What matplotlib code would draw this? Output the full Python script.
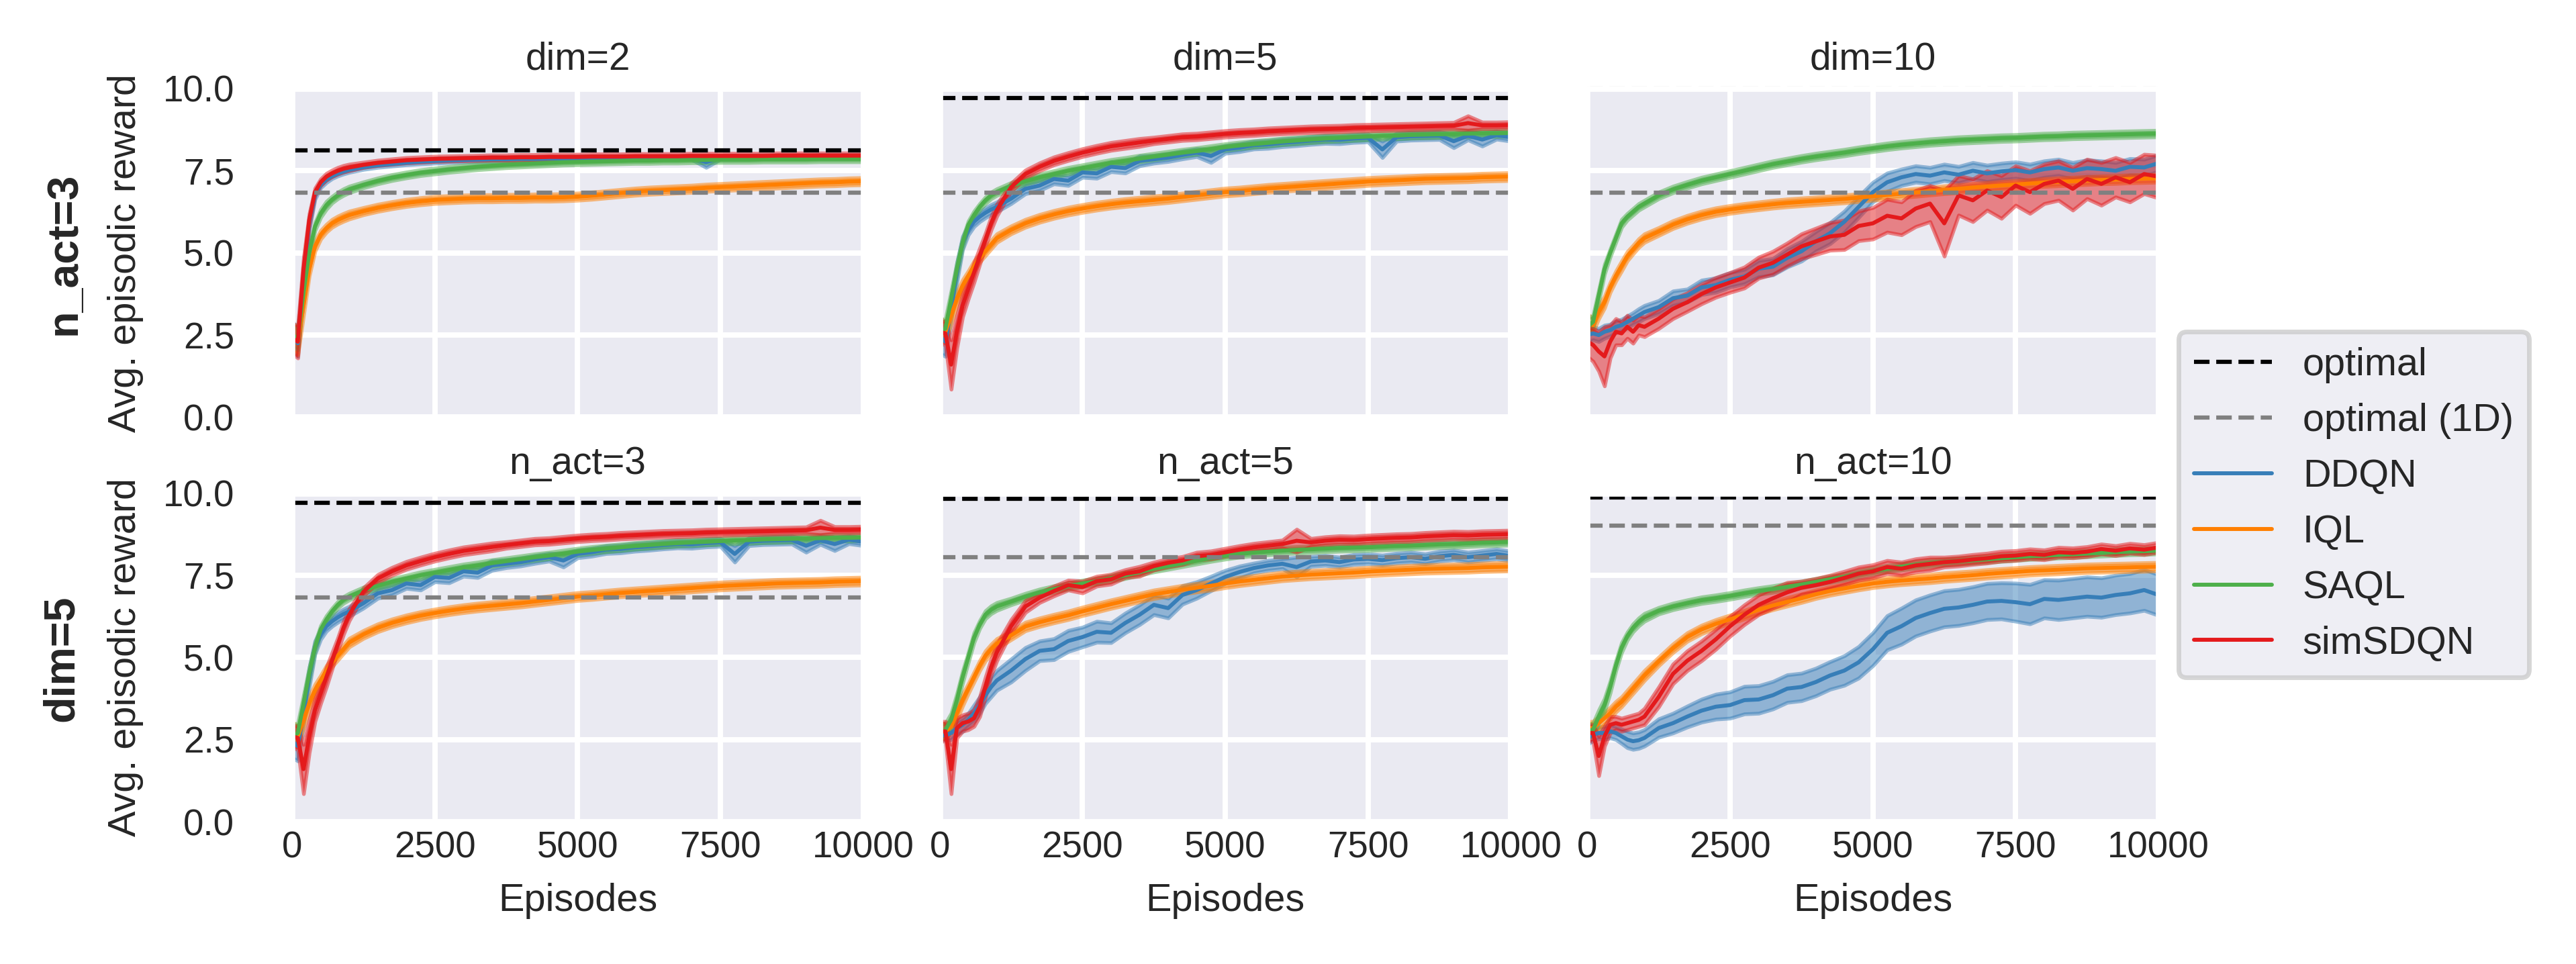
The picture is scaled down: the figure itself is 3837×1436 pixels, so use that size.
import matplotlib.pyplot as plt
import seaborn as sns

sns.set_theme(style='darkgrid')
plt.rcParams['font.family'] = ['Liberation Sans', 'DejaVu Sans']

# x positions of the logged evaluations
episodes = [0, 100, 200, 300, 400, 500, 600, 700, 800, 900, 1000,
            1250, 1500, 1750, 2000, 2250, 2500, 2750, 3000, 3250, 3500,
            3750, 4000, 4250, 4500, 4750, 5000, 5250, 5500, 5750, 6000,
            6250, 6500, 6750, 7000, 7250, 7500, 7750, 8000, 8250, 8500,
            8750, 9000, 9250, 9500, 9750, 10000]

methods = ['DDQN', 'IQL', 'SAQL', 'simSDQN']
colors = {'DDQN': '#377eb8', 'IQL': '#ff7f00', 'SAQL': '#4daf4a', 'simSDQN': '#e41a1c'}

# ---- n_act=3, dim=2 ----
ddqn_a3_d2 = [2.5, 2.25, 4.3, 5.9, 6.75, 7.08, 7.24, 7.34, 7.42, 7.48, 7.53,
              7.61, 7.67, 7.71, 7.75, 7.78, 7.80, 7.82, 7.83, 7.84, 7.85,
              7.85, 7.86, 7.86, 7.87, 7.87, 7.88, 7.88, 7.88, 7.89, 7.89,
              7.89, 7.90, 7.90, 7.90, 7.76, 7.91, 7.91, 7.91, 7.92, 7.92,
              7.92, 7.92, 7.93, 7.93, 7.93, 7.93]
ddqn_a3_d2_sd = [0.45, 0.40, 0.30, 0.20, 0.12, 0.10, 0.10, 0.08, 0.08, 0.08, 0.08,
                 0.07, 0.07, 0.07, 0.07, 0.07, 0.07, 0.07, 0.07, 0.07, 0.07,
                 0.06, 0.06, 0.06, 0.06, 0.06, 0.06, 0.06, 0.06, 0.06, 0.06,
                 0.06, 0.06, 0.06, 0.06, 0.16, 0.06, 0.06, 0.06, 0.06, 0.06,
                 0.06, 0.06, 0.06, 0.06, 0.06, 0.06]
iql_a3_d2 = [2.45, 2.3, 3.4, 4.5, 5.2, 5.55, 5.75, 5.9, 6.0, 6.08, 6.15,
             6.27, 6.37, 6.45, 6.52, 6.57, 6.61, 6.63, 6.65, 6.66, 6.66,
             6.67, 6.67, 6.68, 6.68, 6.69, 6.71, 6.74, 6.78, 6.82, 6.86,
             6.89, 6.91, 6.93, 6.95, 6.98, 7.00, 7.02, 7.04, 7.06, 7.08,
             7.10, 7.12, 7.14, 7.15, 7.17, 7.18]
iql_a3_d2_sd = [0.40, 0.40, 0.30, 0.20, 0.15, 0.13, 0.12, 0.12, 0.12, 0.12, 0.12,
                0.11, 0.11, 0.11, 0.11, 0.11, 0.11, 0.11, 0.11, 0.11, 0.11,
                0.11, 0.11, 0.11, 0.11, 0.11, 0.11, 0.11, 0.11, 0.11, 0.11,
                0.11, 0.11, 0.11, 0.11, 0.11, 0.11, 0.11, 0.11, 0.11, 0.11,
                0.11, 0.11, 0.11, 0.11, 0.11, 0.11]
saql_a3_d2 = [2.5, 2.4, 3.8, 5.0, 5.8, 6.2, 6.45, 6.62, 6.75, 6.85, 6.93,
              7.07, 7.19, 7.29, 7.37, 7.44, 7.49, 7.54, 7.58, 7.62, 7.65,
              7.68, 7.70, 7.72, 7.74, 7.76, 7.77, 7.78, 7.79, 7.80, 7.81,
              7.81, 7.82, 7.82, 7.83, 7.83, 7.84, 7.84, 7.84, 7.85, 7.85,
              7.85, 7.85, 7.86, 7.86, 7.86, 7.86]
saql_a3_d2_sd = [0.35, 0.35, 0.25, 0.15, 0.12, 0.12, 0.12, 0.10, 0.10, 0.10, 0.10,
                 0.09, 0.09, 0.09, 0.09, 0.09, 0.09, 0.09, 0.09, 0.09, 0.09,
                 0.09, 0.09, 0.09, 0.09, 0.09, 0.09, 0.09, 0.09, 0.09, 0.09,
                 0.09, 0.09, 0.09, 0.09, 0.09, 0.09, 0.09, 0.09, 0.09, 0.09,
                 0.09, 0.09, 0.09, 0.09, 0.09, 0.09]
sim_a3_d2 = [2.4, 2.3, 4.5, 6.0, 6.85, 7.15, 7.32, 7.42, 7.50, 7.56, 7.60,
             7.68, 7.74, 7.78, 7.82, 7.84, 7.86, 7.87, 7.88, 7.89, 7.90,
             7.90, 7.91, 7.91, 7.92, 7.92, 7.92, 7.93, 7.93, 7.93, 7.94,
             7.94, 7.94, 7.94, 7.95, 7.95, 7.95, 7.95, 7.95, 7.95, 7.96,
             7.96, 7.96, 7.96, 7.96, 7.96, 7.96]
sim_a3_d2_sd = [0.45, 0.50, 0.35, 0.20, 0.12, 0.10, 0.10, 0.10, 0.10, 0.10, 0.10,
                0.08, 0.08, 0.08, 0.08, 0.08, 0.08, 0.08, 0.08, 0.08, 0.08,
                0.08, 0.08, 0.08, 0.08, 0.08, 0.08, 0.08, 0.08, 0.08, 0.08,
                0.08, 0.08, 0.08, 0.08, 0.08, 0.08, 0.08, 0.08, 0.08, 0.08,
                0.08, 0.08, 0.08, 0.08, 0.08, 0.08]

# ---- n_act=3, dim=5 (same runs appear in both rows) ----
ddqn_a3_d5 = [2.45, 2.3, 3.3, 4.4, 5.3, 5.7, 5.95, 6.1, 6.22, 6.32, 6.4,
              6.65, 6.95, 7.05, 7.25, 7.2, 7.45, 7.42, 7.62, 7.58, 7.8,
              7.85, 7.9, 7.98, 8.05, 7.95, 8.15, 8.2, 8.28, 8.3, 8.35,
              8.38, 8.42, 8.45, 8.44, 8.48, 8.5, 8.15, 8.52, 8.55, 8.56,
              8.57, 8.4, 8.56, 8.45, 8.58, 8.52]
ddqn_a3_d5_sd = [0.50, 0.45, 0.35, 0.30, 0.20, 0.15, 0.15, 0.15, 0.15, 0.15, 0.15,
                 0.15, 0.15, 0.15, 0.15, 0.15, 0.15, 0.15, 0.15, 0.15, 0.15,
                 0.12, 0.12, 0.12, 0.12, 0.20, 0.12, 0.12, 0.12, 0.12, 0.12,
                 0.12, 0.12, 0.12, 0.12, 0.12, 0.12, 0.25, 0.12, 0.12, 0.12,
                 0.12, 0.20, 0.12, 0.20, 0.12, 0.12]
iql_a3_d5 = [2.7, 2.6, 3.1, 3.6, 4.0, 4.3, 4.6, 4.85, 5.05, 5.25, 5.45,
             5.7, 5.9, 6.05, 6.17, 6.27, 6.35, 6.42, 6.48, 6.53, 6.57,
             6.61, 6.65, 6.7, 6.75, 6.8, 6.85, 6.88, 6.92, 6.96, 6.99,
             7.02, 7.05, 7.08, 7.11, 7.14, 7.17, 7.19, 7.21, 7.23, 7.25,
             7.26, 7.27, 7.28, 7.3, 7.31, 7.32]
iql_a3_d5_sd = [0.35, 0.30, 0.25, 0.20, 0.18, 0.15, 0.15, 0.13, 0.13, 0.13, 0.13,
                0.12, 0.12, 0.12, 0.12, 0.12, 0.12, 0.12, 0.12, 0.12, 0.12,
                0.12, 0.12, 0.12, 0.12, 0.12, 0.12, 0.12, 0.12, 0.12, 0.12,
                0.12, 0.12, 0.12, 0.12, 0.12, 0.12, 0.12, 0.12, 0.12, 0.12,
                0.12, 0.12, 0.12, 0.12, 0.12, 0.12]
saql_a3_d5 = [2.6, 2.7, 3.6, 4.5, 5.3, 5.85, 6.15, 6.4, 6.6, 6.75, 6.85,
              7.04, 7.18, 7.3, 7.4, 7.5, 7.58, 7.66, 7.74, 7.8, 7.87,
              7.93, 7.99, 8.05, 8.1, 8.16, 8.22, 8.27, 8.31, 8.35, 8.39,
              8.42, 8.45, 8.48, 8.5, 8.52, 8.54, 8.56, 8.57, 8.59, 8.6,
              8.61, 8.62, 8.63, 8.64, 8.64, 8.65]
saql_a3_d5_sd = [0.35, 0.30, 0.25, 0.20, 0.15, 0.12, 0.12, 0.10, 0.10, 0.10, 0.10,
                 0.10, 0.10, 0.10, 0.10, 0.10, 0.10, 0.10, 0.10, 0.10, 0.10,
                 0.10, 0.10, 0.10, 0.10, 0.10, 0.10, 0.10, 0.10, 0.10, 0.10,
                 0.10, 0.10, 0.10, 0.10, 0.10, 0.10, 0.10, 0.10, 0.10, 0.10,
                 0.10, 0.10, 0.10, 0.10, 0.10, 0.10]
sim_a3_d5 = [2.6, 2.55, 1.6, 2.6, 3.4, 3.9, 4.4, 4.9, 5.4, 5.9, 6.3,
             7.0, 7.4, 7.62, 7.8, 7.93, 8.05, 8.15, 8.24, 8.3, 8.36,
             8.42, 8.47, 8.52, 8.54, 8.58, 8.62, 8.65, 8.67, 8.7, 8.72,
             8.74, 8.76, 8.77, 8.78, 8.8, 8.81, 8.82, 8.83, 8.84, 8.85,
             8.86, 8.87, 8.95, 8.88, 8.88, 8.89]
sim_a3_d5_sd = [0.35, 0.35, 0.75, 0.50, 0.35, 0.30, 0.30, 0.25, 0.20, 0.20, 0.18,
                0.12, 0.12, 0.12, 0.12, 0.12, 0.12, 0.12, 0.12, 0.12, 0.12,
                0.10, 0.10, 0.10, 0.10, 0.10, 0.10, 0.10, 0.10, 0.10, 0.10,
                0.10, 0.10, 0.10, 0.10, 0.10, 0.10, 0.10, 0.10, 0.10, 0.10,
                0.10, 0.10, 0.22, 0.10, 0.10, 0.10]

# ---- n_act=3, dim=10 ----
ddqn_a3_d10 = [2.5, 2.55, 2.5, 2.6, 2.65, 2.75, 2.8, 2.9, 3.0, 3.1, 3.2,
               3.35, 3.62, 3.7, 3.95, 4.02, 4.18, 4.28, 4.52, 4.58, 4.85,
               5.05, 5.35, 5.6, 5.95, 6.4, 6.85, 7.15, 7.3, 7.4, 7.35,
               7.45, 7.38, 7.5, 7.42, 7.48, 7.52, 7.45, 7.55, 7.6, 7.5,
               7.58, 7.55, 7.5, 7.62, 7.6, 7.73]
ddqn_a3_d10_sd = [0.25, 0.20, 0.20, 0.20, 0.18, 0.18, 0.18, 0.18, 0.18, 0.20, 0.20,
                  0.20, 0.22, 0.20, 0.22, 0.22, 0.22, 0.22, 0.25, 0.25, 0.28,
                  0.30, 0.30, 0.32, 0.32, 0.32, 0.30, 0.28, 0.25, 0.25, 0.25,
                  0.25, 0.25, 0.25, 0.25, 0.25, 0.25, 0.25, 0.25, 0.25, 0.25,
                  0.25, 0.25, 0.25, 0.25, 0.25, 0.25]
iql_a3_d10 = [2.9, 2.8, 3.2, 3.5, 3.95, 4.3, 4.6, 4.9, 5.1, 5.3, 5.45,
              5.65, 5.86, 6.02, 6.15, 6.25, 6.32, 6.38, 6.43, 6.48, 6.52,
              6.55, 6.58, 6.61, 6.64, 6.68, 6.72, 6.76, 6.8, 6.84, 6.88,
              6.92, 6.95, 6.99, 7.02, 7.05, 7.08, 7.11, 7.14, 7.16, 7.18,
              7.2, 7.22, 7.23, 7.25, 7.26, 7.27]
iql_a3_d10_sd = [0.25, 0.20, 0.20, 0.18, 0.15, 0.15, 0.15, 0.14, 0.13, 0.13, 0.13,
                 0.12, 0.12, 0.12, 0.12, 0.12, 0.12, 0.12, 0.12, 0.12, 0.12,
                 0.12, 0.12, 0.12, 0.12, 0.12, 0.12, 0.12, 0.12, 0.12, 0.12,
                 0.12, 0.12, 0.12, 0.12, 0.12, 0.12, 0.12, 0.12, 0.12, 0.12,
                 0.12, 0.12, 0.12, 0.12, 0.12, 0.12]
saql_a3_d10 = [2.75, 2.9, 3.7, 4.5, 5.0, 5.45, 5.9, 6.1, 6.25, 6.4, 6.5,
               6.75, 6.93, 7.07, 7.2, 7.3, 7.4, 7.5, 7.6, 7.7, 7.78,
               7.86, 7.93, 7.99, 8.05, 8.12, 8.18, 8.24, 8.29, 8.33, 8.37,
               8.4, 8.43, 8.45, 8.47, 8.49, 8.5, 8.52, 8.54, 8.55, 8.57,
               8.58, 8.59, 8.6, 8.61, 8.62, 8.63]
saql_a3_d10_sd = [0.25, 0.20, 0.18, 0.15, 0.12, 0.12, 0.12, 0.10, 0.10, 0.10, 0.10,
                  0.10, 0.10, 0.10, 0.10, 0.10, 0.10, 0.10, 0.10, 0.10, 0.10,
                  0.10, 0.10, 0.10, 0.10, 0.10, 0.10, 0.10, 0.10, 0.10, 0.10,
                  0.10, 0.10, 0.10, 0.10, 0.10, 0.10, 0.10, 0.10, 0.10, 0.10,
                  0.10, 0.10, 0.10, 0.10, 0.10, 0.10]
sim_a3_d10 = [2.3, 2.2, 2.0, 1.85, 2.3, 2.6, 2.55, 2.75, 2.6, 2.8, 2.75,
              3.0, 3.3, 3.5, 3.75, 3.95, 4.1, 4.25, 4.55, 4.7, 4.95,
              5.2, 5.35, 5.5, 5.55, 5.82, 5.9, 6.13, 6.05, 6.35, 6.5,
              5.9, 6.75, 6.6, 6.9, 6.7, 7.05, 6.85, 7.1, 7.2, 6.95,
              7.25, 7.1, 7.3, 7.15, 7.4, 7.32]
sim_a3_d10_sd = [0.45, 0.50, 0.60, 0.90, 0.50, 0.40, 0.35, 0.35, 0.35, 0.30, 0.30,
                 0.30, 0.30, 0.28, 0.30, 0.30, 0.30, 0.32, 0.32, 0.35, 0.35,
                 0.38, 0.40, 0.42, 0.45, 0.45, 0.48, 0.50, 0.50, 0.55, 0.55,
                 1.00, 0.60, 0.65, 0.60, 0.65, 0.60, 0.65, 0.60, 0.60, 0.65,
                 0.60, 0.65, 0.60, 0.60, 0.60, 0.65]

# ---- dim=5, n_act=5 ----
ddqn_a5_d5 = [2.65, 2.62, 2.7, 2.85, 2.95, 3.1, 3.3, 3.55, 3.85, 4.1, 4.3,
              4.6, 4.95, 5.2, 5.25, 5.5, 5.62, 5.78, 5.75, 6.05, 6.3,
              6.6, 6.5, 6.9, 7.05, 7.25, 7.45, 7.6, 7.72, 7.8, 7.85,
              7.75, 7.92, 7.95, 7.9, 7.98, 8.0, 7.96, 8.02, 8.05, 8.0,
              8.08, 8.12, 8.05, 8.1, 8.15, 8.08]
ddqn_a5_d5_sd = [0.15, 0.15, 0.20, 0.20, 0.20, 0.20, 0.25, 0.25, 0.25, 0.30, 0.30,
                 0.35, 0.35, 0.30, 0.32, 0.32, 0.30, 0.32, 0.30, 0.30, 0.30,
                 0.30, 0.30, 0.28, 0.25, 0.22, 0.20, 0.18, 0.15, 0.15, 0.15,
                 0.30, 0.15, 0.15, 0.15, 0.15, 0.15, 0.15, 0.15, 0.15, 0.15,
                 0.15, 0.15, 0.15, 0.15, 0.15, 0.15]
iql_a5_d5 = [2.8, 2.75, 2.9, 3.3, 3.7, 4.05, 4.4, 4.75, 5.05, 5.25, 5.42,
             5.67, 5.94, 6.07, 6.18, 6.28, 6.4, 6.51, 6.62, 6.72, 6.82,
             6.92, 6.99, 7.06, 7.12, 7.18, 7.25, 7.31, 7.36, 7.41, 7.46,
             7.49, 7.52, 7.54, 7.56, 7.58, 7.61, 7.63, 7.65, 7.67, 7.69,
             7.7, 7.71, 7.72, 7.74, 7.75, 7.76]
iql_a5_d5_sd = [0.25, 0.20, 0.20, 0.20, 0.18, 0.15, 0.15, 0.15, 0.15, 0.15, 0.15,
                0.13, 0.13, 0.13, 0.13, 0.13, 0.13, 0.13, 0.13, 0.13, 0.13,
                0.13, 0.13, 0.13, 0.13, 0.13, 0.13, 0.13, 0.13, 0.13, 0.13,
                0.13, 0.13, 0.13, 0.13, 0.13, 0.13, 0.13, 0.13, 0.13, 0.13,
                0.13, 0.13, 0.13, 0.13, 0.13, 0.13]
saql_a5_d5 = [2.7, 2.8, 3.1, 3.7, 4.4, 5.0, 5.6, 6.0, 6.3, 6.45, 6.55,
              6.7, 6.85, 6.98, 7.08, 7.17, 7.25, 7.32, 7.41, 7.5, 7.6,
              7.7, 7.78, 7.86, 7.94, 8.02, 8.09, 8.15, 8.19, 8.22, 8.25,
              8.27, 8.29, 8.31, 8.33, 8.34, 8.35, 8.37, 8.39, 8.4, 8.42,
              8.44, 8.45, 8.47, 8.49, 8.5, 8.52]
saql_a5_d5_sd = [0.25, 0.20, 0.20, 0.20, 0.18, 0.15, 0.15, 0.12, 0.12, 0.12, 0.12,
                 0.10, 0.10, 0.10, 0.10, 0.10, 0.10, 0.10, 0.10, 0.10, 0.10,
                 0.10, 0.10, 0.10, 0.10, 0.10, 0.10, 0.10, 0.10, 0.10, 0.10,
                 0.10, 0.10, 0.10, 0.10, 0.10, 0.10, 0.10, 0.10, 0.10, 0.10,
                 0.10, 0.10, 0.10, 0.10, 0.10, 0.10]
sim_a5_d5 = [2.75, 2.75, 1.6, 2.85, 3.0, 3.05, 3.15, 3.5, 4.1, 4.7, 5.15,
             5.95, 6.55, 6.82, 7.02, 7.2, 7.14, 7.32, 7.38, 7.55, 7.62,
             7.78, 7.88, 7.95, 8.08, 8.12, 8.2, 8.28, 8.35, 8.4, 8.45,
             8.55, 8.5, 8.55, 8.58, 8.57, 8.6, 8.62, 8.64, 8.65, 8.68,
             8.7, 8.72, 8.71, 8.73, 8.74, 8.75]
sim_a5_d5_sd = [0.30, 0.30, 0.75, 0.30, 0.25, 0.25, 0.25, 0.30, 0.30, 0.25, 0.25,
                0.20, 0.18, 0.15, 0.15, 0.15, 0.18, 0.15, 0.15, 0.12, 0.15,
                0.12, 0.12, 0.12, 0.12, 0.12, 0.12, 0.12, 0.12, 0.12, 0.12,
                0.35, 0.12, 0.12, 0.12, 0.12, 0.12, 0.12, 0.12, 0.12, 0.12,
                0.12, 0.12, 0.12, 0.12, 0.12, 0.12]

# ---- dim=5, n_act=10 ----
ddqn_a10_d5 = [2.55, 2.65, 2.7, 2.7, 2.75, 2.7, 2.6, 2.5, 2.45, 2.48, 2.55,
               2.85, 3.0, 3.2, 3.38, 3.5, 3.55, 3.7, 3.72, 3.85, 4.05,
               4.1, 4.25, 4.45, 4.6, 4.85, 5.25, 5.75, 5.95, 6.2, 6.35,
               6.48, 6.52, 6.6, 6.7, 6.72, 6.68, 6.62, 6.78, 6.75, 6.8,
               6.85, 6.82, 6.9, 6.95, 7.05, 6.9]
ddqn_a10_d5_sd = [0.20, 0.18, 0.18, 0.20, 0.20, 0.20, 0.22, 0.25, 0.25, 0.25, 0.25,
                  0.28, 0.30, 0.32, 0.35, 0.38, 0.40, 0.42, 0.42, 0.42, 0.42,
                  0.42, 0.42, 0.42, 0.45, 0.48, 0.50, 0.52, 0.55, 0.55, 0.55,
                  0.55, 0.55, 0.55, 0.55, 0.55, 0.58, 0.60, 0.58, 0.60, 0.60,
                  0.60, 0.60, 0.60, 0.60, 0.62, 0.62]
iql_a10_d5 = [2.85, 2.85, 3.0, 3.15, 3.3, 3.5, 3.65, 3.85, 4.05, 4.25, 4.45,
              4.88, 5.28, 5.62, 5.85, 6.02, 6.16, 6.3, 6.45, 6.58, 6.69,
              6.8, 6.92, 7.02, 7.1, 7.18, 7.25, 7.3, 7.34, 7.37, 7.4,
              7.44, 7.47, 7.5, 7.54, 7.57, 7.6, 7.63, 7.65, 7.67, 7.69,
              7.71, 7.72, 7.73, 7.74, 7.75, 7.76]
iql_a10_d5_sd = [0.20, 0.20, 0.20, 0.18, 0.18, 0.16, 0.15, 0.15, 0.15, 0.15, 0.15,
                 0.13, 0.13, 0.13, 0.13, 0.13, 0.13, 0.13, 0.13, 0.13, 0.13,
                 0.13, 0.13, 0.13, 0.13, 0.13, 0.13, 0.13, 0.13, 0.13, 0.13,
                 0.13, 0.13, 0.13, 0.13, 0.13, 0.13, 0.13, 0.13, 0.13, 0.13,
                 0.13, 0.13, 0.13, 0.13, 0.13, 0.13]
saql_a10_d5 = [2.75, 2.8, 3.2, 3.55, 4.1, 4.75, 5.3, 5.65, 5.9, 6.08, 6.22,
               6.42, 6.55, 6.65, 6.74, 6.8, 6.87, 6.95, 7.02, 7.08, 7.15,
               7.22, 7.3, 7.38, 7.45, 7.55, 7.63, 7.7, 7.76, 7.82, 7.87,
               7.9, 7.93, 7.96, 7.99, 8.02, 8.05, 8.08, 8.1, 8.12, 8.14,
               8.16, 8.18, 8.2, 8.22, 8.23, 8.25]
saql_a10_d5_sd = [0.20, 0.20, 0.20, 0.20, 0.18, 0.15, 0.15, 0.12, 0.12, 0.12, 0.12,
                  0.10, 0.10, 0.10, 0.10, 0.10, 0.10, 0.10, 0.10, 0.10, 0.10,
                  0.10, 0.10, 0.10, 0.10, 0.10, 0.10, 0.10, 0.10, 0.10, 0.10,
                  0.10, 0.10, 0.10, 0.10, 0.10, 0.10, 0.10, 0.10, 0.10, 0.10,
                  0.10, 0.10, 0.10, 0.10, 0.10, 0.10]
sim_a10_d5 = [2.7, 2.7, 2.0, 2.6, 2.95, 3.0, 2.95, 3.0, 3.05, 3.1, 3.2,
              3.8, 4.5, 4.9, 5.2, 5.55, 5.95, 6.3, 6.6, 6.8, 6.98,
              7.12, 7.2, 7.3, 7.42, 7.55, 7.62, 7.75, 7.7, 7.8, 7.85,
              7.9, 7.93, 7.98, 8.02, 8.08, 8.1, 8.15, 8.12, 8.2, 8.18,
              8.22, 8.3, 8.25, 8.32, 8.28, 8.35]
sim_a10_d5_sd = [0.25, 0.25, 0.60, 0.30, 0.25, 0.20, 0.20, 0.20, 0.20, 0.20, 0.25,
                 0.30, 0.30, 0.30, 0.30, 0.30, 0.30, 0.30, 0.30, 0.30, 0.30,
                 0.20, 0.20, 0.20, 0.20, 0.20, 0.20, 0.20, 0.20, 0.20, 0.20,
                 0.15, 0.15, 0.15, 0.15, 0.15, 0.15, 0.15, 0.15, 0.15, 0.15,
                 0.15, 0.15, 0.15, 0.15, 0.15, 0.15]

# reference levels per panel
optimal = [8.13, 9.71, 10.0, 9.71, 9.82, 9.87]
optimal_1d = [6.83, 6.83, 6.83, 6.83, 8.05, 9.0]
titles = ['dim=2', 'dim=5', 'dim=10', 'n_act=3', 'n_act=5', 'n_act=10']

runs = [
    {'DDQN': (ddqn_a3_d2, ddqn_a3_d2_sd), 'IQL': (iql_a3_d2, iql_a3_d2_sd),
     'SAQL': (saql_a3_d2, saql_a3_d2_sd), 'simSDQN': (sim_a3_d2, sim_a3_d2_sd)},
    {'DDQN': (ddqn_a3_d5, ddqn_a3_d5_sd), 'IQL': (iql_a3_d5, iql_a3_d5_sd),
     'SAQL': (saql_a3_d5, saql_a3_d5_sd), 'simSDQN': (sim_a3_d5, sim_a3_d5_sd)},
    {'DDQN': (ddqn_a3_d10, ddqn_a3_d10_sd), 'IQL': (iql_a3_d10, iql_a3_d10_sd),
     'SAQL': (saql_a3_d10, saql_a3_d10_sd), 'simSDQN': (sim_a3_d10, sim_a3_d10_sd)},
    {'DDQN': (ddqn_a3_d5, ddqn_a3_d5_sd), 'IQL': (iql_a3_d5, iql_a3_d5_sd),
     'SAQL': (saql_a3_d5, saql_a3_d5_sd), 'simSDQN': (sim_a3_d5, sim_a3_d5_sd)},
    {'DDQN': (ddqn_a5_d5, ddqn_a5_d5_sd), 'IQL': (iql_a5_d5, iql_a5_d5_sd),
     'SAQL': (saql_a5_d5, saql_a5_d5_sd), 'simSDQN': (sim_a5_d5, sim_a5_d5_sd)},
    {'DDQN': (ddqn_a10_d5, ddqn_a10_d5_sd), 'IQL': (iql_a10_d5, iql_a10_d5_sd),
     'SAQL': (saql_a10_d5, saql_a10_d5_sd), 'simSDQN': (sim_a10_d5, sim_a10_d5_sd)},
]

fig, axes = plt.subplots(2, 3, figsize=(7.674, 2.872), dpi=500, sharex=True, sharey=True)
fig.subplots_adjust(left=0.1134, right=0.8379, bottom=0.1476, top=0.9081,
                    wspace=0.134, hspace=0.231)

for i, ax in enumerate(axes.flat):
    for name in methods:
        mean, sd = runs[i][name]
        lo = [m - s for m, s in zip(mean, sd)]
        hi = [m + s for m, s in zip(mean, sd)]
        ax.fill_between(episodes, lo, hi, color=colors[name], alpha=0.5, linewidth=0.8)
        ax.plot(episodes, mean, color=colors[name], lw=0.85, label=name)
    ax.axhline(optimal[i], color='black', ls='--', lw=0.9, clip_on=False, label='optimal')
    ax.axhline(optimal_1d[i], color='gray', ls='--', lw=0.9, label='optimal (1D)')
    ax.set_title(titles[i], fontsize=8.2, pad=4.1)
    ax.set_xlim(0, 10000)
    ax.set_ylim(0, 10)
    ax.set_xticks([0, 2500, 5000, 7500, 10000])
    ax.set_yticks([0, 2.5, 5, 7.5, 10])
    ax.tick_params(axis='x', length=0, pad=2.0, labelsize=7.9)
    ax.tick_params(axis='y', length=0, pad=12.4, labelsize=7.9)
    for g in ax.get_xgridlines() + ax.get_ygridlines():
        g.set_linewidth(1.15)

for ax in axes[:, 0]:
    ax.set_ylabel('Avg. episodic reward', fontsize=8.3)
    ax.yaxis.set_label_coords(-0.26, 0.5)
for ax in axes[1, :]:
    ax.set_xlabel('Episodes', fontsize=8.3, labelpad=3.6)

fig.text(0.025, 0.737, 'n_act=3', rotation=90, ha='center', va='center',
         fontsize=9.3, fontweight='bold')
fig.text(0.024, 0.317, 'dim=5', rotation=90, ha='center', va='center',
         fontsize=9.3, fontweight='bold')

handles, labels = axes[0, 0].get_legend_handles_labels()
order = [labels.index(l) for l in ['optimal', 'optimal (1D)', 'DDQN', 'IQL', 'SAQL', 'simSDQN']]
fig.legend([handles[k] for k in order], [labels[k] for k in order],
           loc='center left', bbox_to_anchor=(0.8458, 0.4767), borderaxespad=0,
           fontsize=8.3, labelspacing=0.5)

fig.savefig('out.png', dpi=500)
